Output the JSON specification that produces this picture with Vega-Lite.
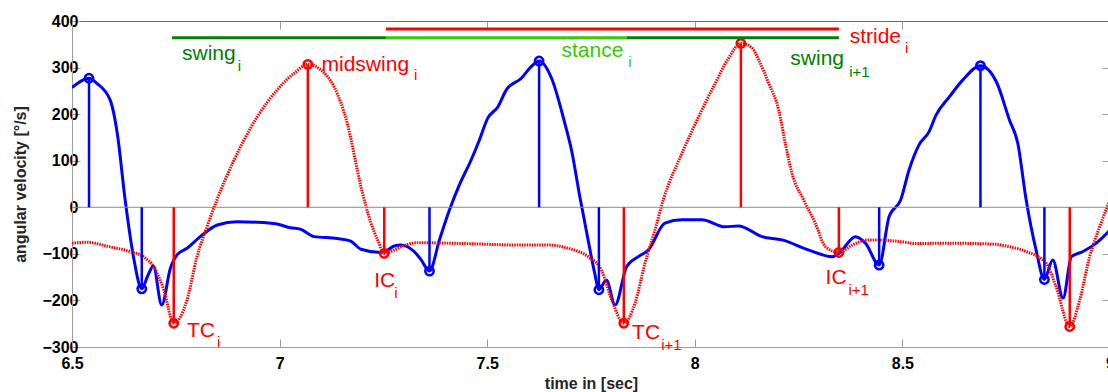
{
  "$schema": "https://vega.github.io/schema/vega-lite/v6.json",
  "width": 1038,
  "height": 326,
  "autosize": {"type": "none"},
  "padding": {"left": 72, "top": 21, "right": 0, "bottom": 45},
  "background": "white",
  "config": {
    "view": {"stroke": "#6e6e6e", "strokeWidth": 1},
    "axis": {
      "labelFont": "Liberation Sans",
      "labelFontWeight": "bold",
      "labelFontSize": 16,
      "labelColor": "#000000",
      "titleFont": "Liberation Sans",
      "titleFontWeight": "bold",
      "titleFontSize": 16,
      "titleColor": "#262626",
      "domainColor": "#9e9e9e",
      "tickColor": "#9e9e9e",
      "grid": false
    }
  },
  "datasets": {
    "foot1": [
      {"t": 6.500, "v": 257}, {"t": 6.541, "v": 277}, {"t": 6.560, "v": 266}, {"t": 6.592, "v": 230},
      {"t": 6.609, "v": 159}, {"t": 6.628, "v": 16}, {"t": 6.648, "v": -106}, {"t": 6.668, "v": -175},
      {"t": 6.682, "v": -148}, {"t": 6.696, "v": -126}, {"t": 6.716, "v": -210}, {"t": 6.737, "v": -131},
      {"t": 6.753, "v": -102}, {"t": 6.777, "v": -88}, {"t": 6.809, "v": -63}, {"t": 6.850, "v": -38},
      {"t": 6.898, "v": -31}, {"t": 6.946, "v": -32}, {"t": 6.994, "v": -36}, {"t": 7.027, "v": -44},
      {"t": 7.050, "v": -47}, {"t": 7.083, "v": -63}, {"t": 7.139, "v": -67}, {"t": 7.170, "v": -72},
      {"t": 7.196, "v": -90}, {"t": 7.244, "v": -97}, {"t": 7.260, "v": -92}, {"t": 7.276, "v": -83},
      {"t": 7.292, "v": -81}, {"t": 7.324, "v": -95}, {"t": 7.341, "v": -113}, {"t": 7.361, "v": -137},
      {"t": 7.385, "v": -70}, {"t": 7.409, "v": -6}, {"t": 7.433, "v": 48}, {"t": 7.461, "v": 101},
      {"t": 7.481, "v": 144}, {"t": 7.501, "v": 191}, {"t": 7.526, "v": 216}, {"t": 7.546, "v": 252},
      {"t": 7.582, "v": 277}, {"t": 7.606, "v": 302}, {"t": 7.625, "v": 314}, {"t": 7.655, "v": 277},
      {"t": 7.687, "v": 180}, {"t": 7.703, "v": 123}, {"t": 7.723, "v": 23}, {"t": 7.743, "v": -70},
      {"t": 7.759, "v": -142}, {"t": 7.769, "v": -177}, {"t": 7.787, "v": -156}, {"t": 7.808, "v": -210},
      {"t": 7.836, "v": -127}, {"t": 7.864, "v": -106}, {"t": 7.888, "v": -92}, {"t": 7.928, "v": -34},
      {"t": 7.969, "v": -27}, {"t": 8.017, "v": -27}, {"t": 8.073, "v": -42}, {"t": 8.105, "v": -40},
      {"t": 8.162, "v": -63}, {"t": 8.210, "v": -70}, {"t": 8.275, "v": -92}, {"t": 8.331, "v": -106},
      {"t": 8.347, "v": -99}, {"t": 8.387, "v": -63}, {"t": 8.411, "v": -77}, {"t": 8.444, "v": -124},
      {"t": 8.468, "v": -20}, {"t": 8.496, "v": 16}, {"t": 8.516, "v": 80}, {"t": 8.540, "v": 134},
      {"t": 8.564, "v": 162}, {"t": 8.581, "v": 198}, {"t": 8.613, "v": 237}, {"t": 8.645, "v": 273},
      {"t": 8.688, "v": 304}, {"t": 8.726, "v": 270}, {"t": 8.758, "v": 187}, {"t": 8.778, "v": 137},
      {"t": 8.798, "v": 16}, {"t": 8.822, "v": -92}, {"t": 8.842, "v": -155}, {"t": 8.862, "v": -113},
      {"t": 8.887, "v": -195}, {"t": 8.907, "v": -106}, {"t": 8.935, "v": -95}, {"t": 8.967, "v": -77},
      {"t": 9.000, "v": -49}
    ],
    "foot2": [
      {"t": 6.500, "v": -77}, {"t": 6.535, "v": -75}, {"t": 6.592, "v": -85}, {"t": 6.640, "v": -95},
      {"t": 6.672, "v": -106}, {"t": 6.696, "v": -127}, {"t": 6.721, "v": -177}, {"t": 6.745, "v": -249},
      {"t": 6.777, "v": -199}, {"t": 6.801, "v": -106}, {"t": 6.825, "v": -42}, {"t": 6.849, "v": 16},
      {"t": 6.890, "v": 101}, {"t": 6.946, "v": 194}, {"t": 6.994, "v": 252}, {"t": 7.035, "v": 288},
      {"t": 7.068, "v": 307}, {"t": 7.099, "v": 295}, {"t": 7.131, "v": 259}, {"t": 7.163, "v": 180},
      {"t": 7.196, "v": 44}, {"t": 7.220, "v": -34}, {"t": 7.236, "v": -70}, {"t": 7.252, "v": -99},
      {"t": 7.276, "v": -92}, {"t": 7.292, "v": -85}, {"t": 7.333, "v": -76}, {"t": 7.405, "v": -77},
      {"t": 7.486, "v": -79}, {"t": 7.566, "v": -81}, {"t": 7.647, "v": -81}, {"t": 7.695, "v": -88},
      {"t": 7.743, "v": -106}, {"t": 7.775, "v": -135}, {"t": 7.800, "v": -199}, {"t": 7.829, "v": -249},
      {"t": 7.856, "v": -206}, {"t": 7.880, "v": -120}, {"t": 7.904, "v": -49}, {"t": 7.924, "v": 16},
      {"t": 7.969, "v": 116}, {"t": 8.009, "v": 194}, {"t": 8.049, "v": 266}, {"t": 8.081, "v": 320},
      {"t": 8.111, "v": 352}, {"t": 8.138, "v": 342}, {"t": 8.154, "v": 316}, {"t": 8.178, "v": 266},
      {"t": 8.202, "v": 209}, {"t": 8.218, "v": 137}, {"t": 8.234, "v": 73}, {"t": 8.262, "v": 16},
      {"t": 8.290, "v": -34}, {"t": 8.315, "v": -85}, {"t": 8.347, "v": -97}, {"t": 8.379, "v": -81},
      {"t": 8.419, "v": -70}, {"t": 8.500, "v": -74}, {"t": 8.531, "v": -78}, {"t": 8.597, "v": -77},
      {"t": 8.717, "v": -79}, {"t": 8.760, "v": -85}, {"t": 8.798, "v": -95}, {"t": 8.846, "v": -120},
      {"t": 8.870, "v": -170}, {"t": 8.903, "v": -256}, {"t": 8.927, "v": -199}, {"t": 8.951, "v": -106},
      {"t": 8.975, "v": -42}, {"t": 9.000, "v": 16}
    ],
    "events": [
      {"t": 6.541, "v": 277, "series": "foot1"}, {"t": 6.668, "v": -175, "series": "foot1"},
      {"t": 7.361, "v": -137, "series": "foot1"}, {"t": 7.625, "v": 314, "series": "foot1"},
      {"t": 7.769, "v": -177, "series": "foot1"}, {"t": 8.444, "v": -124, "series": "foot1"},
      {"t": 8.688, "v": 304, "series": "foot1"}, {"t": 8.842, "v": -155, "series": "foot1"},
      {"t": 6.745, "v": -249, "series": "foot2"}, {"t": 7.068, "v": 307, "series": "foot2"},
      {"t": 7.252, "v": -99, "series": "foot2"}, {"t": 7.829, "v": -249, "series": "foot2"},
      {"t": 8.111, "v": 352, "series": "foot2"}, {"t": 8.347, "v": -97, "series": "foot2"},
      {"t": 8.903, "v": -256, "series": "foot2"}
    ],
    "phases": [
      {"phase": "swing i", "series": "swing", "t0": 6.741, "t1": 7.256, "v": 364},
      {"phase": "stance i", "series": "stance", "t0": 7.256, "t1": 7.836, "v": 364},
      {"phase": "swing i+1", "series": "swing", "t0": 7.836, "t1": 8.347, "v": 364},
      {"phase": "stride i", "series": "stride", "t0": 7.256, "t1": 8.347, "v": 383}
    ],
    "labels": [
      {"label": "swing", "t": 6.765, "v": 316, "series": "swing", "role": "main"},
      {"label": "midswing", "t": 7.101, "v": 293, "series": "foot2", "role": "main"},
      {"label": "stance", "t": 7.679, "v": 323, "series": "stance", "role": "main"},
      {"label": "stride", "t": 8.373, "v": 353, "series": "stride", "role": "main"},
      {"label": "swing", "t": 8.230, "v": 305, "series": "swing", "role": "main"},
      {"label": "TC", "t": 6.777, "v": -278, "series": "foot2", "role": "main"},
      {"label": "IC", "t": 7.228, "v": -172, "series": "foot2", "role": "main"},
      {"label": "TC", "t": 7.849, "v": -283, "series": "foot2", "role": "main"},
      {"label": "IC", "t": 8.315, "v": -165, "series": "foot2", "role": "main"},
      {"label": "i", "t": 6.899, "v": 292, "series": "swing", "role": "sub"},
      {"label": "i", "t": 7.324, "v": 273, "series": "foot2", "role": "sub"},
      {"label": "i", "t": 7.840, "v": 302, "series": "stance", "role": "sub"},
      {"label": "i", "t": 8.506, "v": 332, "series": "stride", "role": "sub"},
      {"label": "i+1", "t": 8.372, "v": 280, "series": "swing", "role": "sub"},
      {"label": "i", "t": 6.849, "v": -299, "series": "foot2", "role": "sub"},
      {"label": "i", "t": 7.276, "v": -195, "series": "foot2", "role": "sub"},
      {"label": "i+1", "t": 7.919, "v": -306, "series": "foot2", "role": "sub"},
      {"label": "i+1", "t": 8.370, "v": -188, "series": "foot2", "role": "sub"}
    ],
    "zero": [{"t0": 6.5, "t1": 9, "level": 0}]
  },
  "layer": [
    {
      "data": {"name": "foot1"},
      "mark": {"type": "line", "strokeWidth": 3, "clip": true, "color": "#0000FF", "interpolate": "monotone"},
      "encoding": {
        "x": {"field": "t", "type": "quantitative",
              "scale": {"domain": [6.5, 9], "nice": false, "zero": false},
              "axis": {"orient": "bottom", "values": [6.5, 7, 7.5, 8, 8.5, 9], "format": "~g",
                       "tickSize": -8, "labelPadding": 16, "title": "time in [sec]", "titlePadding": 4,
                       "labelFlush": false}},
        "y": {"field": "v", "type": "quantitative",
              "scale": {"domain": [-300, 400], "nice": false, "zero": false},
              "axis": {"orient": "left", "values": [-300, -200, -100, 0, 100, 200, 300, 400],
                       "tickSize": -8, "labelPadding": 2, "title": "angular velocity [°/s]", "titlePadding": 13}}
      }
    },
    {
      "data": {"name": "foot2"},
      "mark": {"type": "line", "strokeWidth": 3, "strokeDash": [1.5, 1], "clip": true, "color": "#FF0000", "interpolate": "monotone"},
      "encoding": {
        "x": {"field": "t", "type": "quantitative",
              "axis": {"orient": "top", "values": [7, 7.5, 8, 8.5], "labels": false, "title": null,
                       "tickSize": -8, "domain": false}},
        "y": {"field": "v", "type": "quantitative",
              "axis": {"orient": "right", "values": [-200, -100, 100, 200, 300], "labels": false, "title": null,
                       "tickSize": -8, "domain": false}}
      }
    },
    {
      "data": {"name": "zero"},
      "mark": {"type": "rule", "color": "#8a8a8a", "strokeWidth": 1},
      "encoding": {
        "x": {"field": "t0", "type": "quantitative", "axis": null},
        "x2": {"field": "t1"},
        "y": {"field": "level", "type": "quantitative", "axis": null}
      }
    },
    {
      "data": {"name": "events"},
      "mark": {"type": "rule", "strokeWidth": 2.5},
      "encoding": {
        "x": {"field": "t", "type": "quantitative", "axis": null},
        "y": {"field": "v", "type": "quantitative", "axis": null},
        "y2": {"datum": 0},
        "color": {"field": "series", "type": "nominal",
                  "scale": {"domain": ["foot1", "foot2", "swing", "stance", "stride"],
                            "range": ["#0000FF", "#FF0000", "#008000", "#33CC00", "#FF0000"]},
                  "legend": null}
      }
    },
    {
      "data": {"name": "events"},
      "mark": {"type": "point", "shape": "circle", "filled": false, "size": 70, "strokeWidth": 2.5, "opacity": 1},
      "encoding": {
        "x": {"field": "t", "type": "quantitative", "axis": null},
        "y": {"field": "v", "type": "quantitative", "axis": null},
        "color": {"field": "series", "type": "nominal", "legend": null}
      }
    },
    {
      "data": {"name": "phases"},
      "mark": {"type": "rule", "strokeWidth": 3},
      "encoding": {
        "x": {"field": "t0", "type": "quantitative", "axis": null},
        "x2": {"field": "t1"},
        "y": {"field": "v", "type": "quantitative", "axis": null},
        "color": {"field": "series", "type": "nominal", "legend": null}
      }
    },
    {
      "data": {"name": "labels"},
      "transform": [{"filter": "datum.role === 'main'"}],
      "mark": {"type": "text", "font": "Liberation Sans", "fontSize": 21, "align": "left", "baseline": "alphabetic"},
      "encoding": {
        "x": {"field": "t", "type": "quantitative", "axis": null},
        "y": {"field": "v", "type": "quantitative", "axis": null},
        "text": {"field": "label"},
        "color": {"field": "series", "type": "nominal", "legend": null}
      }
    },
    {
      "data": {"name": "labels"},
      "transform": [{"filter": "datum.role === 'sub'"}],
      "mark": {"type": "text", "font": "Liberation Sans", "fontSize": 15, "align": "left", "baseline": "alphabetic"},
      "encoding": {
        "x": {"field": "t", "type": "quantitative", "axis": null},
        "y": {"field": "v", "type": "quantitative", "axis": null},
        "text": {"field": "label"},
        "color": {"field": "series", "type": "nominal", "legend": null}
      }
    }
  ],
  "resolve": {"axis": {"x": "independent", "y": "independent"}}
}
